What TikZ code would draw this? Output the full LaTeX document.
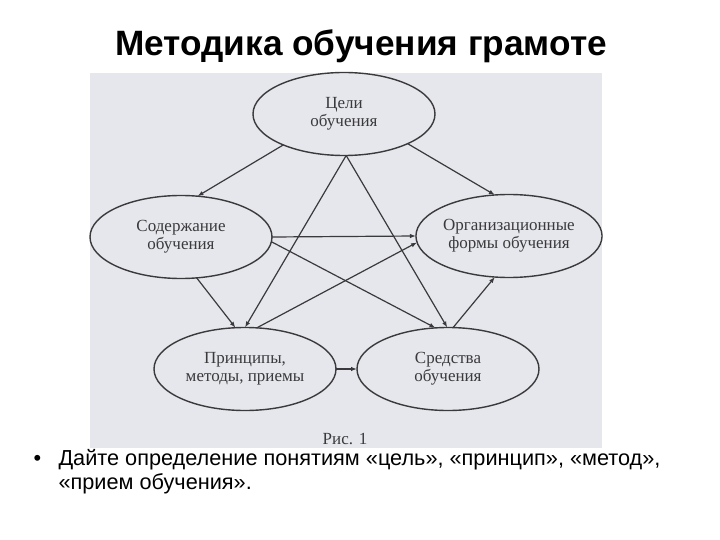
\documentclass[tikz,border=0pt]{standalone}
\usepackage{fontspec}
\setmainfont{Liberation Serif}
\newfontfamily\slidefont{Liberation Sans}
\usepackage{tikz}
\usetikzlibrary{shapes.geometric, arrows.meta, positioning}
\definecolor{scangray}{RGB}{230,231,236}
\definecolor{inkgray}{RGB}{58,58,60}

\begin{document}
\begin{tikzpicture}[x=1pt, y=-1pt,
	oval/.style={draw=inkgray, line width=1.4pt, ellipse, inner sep=0pt, outer sep=0pt, minimum width=182pt, minimum height=83pt, align=center, text=inkgray, font=\fontsize{17}{18}\selectfont},
	link/.style={draw=inkgray, line width=1.2pt, -{Latex[length=6pt, width=4.5pt]}}]
	\useasboundingbox (0,0) rectangle (720,540);
	\fill[scangray] (90,73) rectangle (602,448);
	
	\node[font=\slidefont\bfseries\fontsize{35.2}{40}\selectfont, anchor=base] (title) at (361,56) {Методика обучения грамоте};
	
	\node[oval] (goals) at (344,114) {Цели\\обучения};
	\node[oval] (content) at (181,237) {Содержание\\обучения};
	\node[oval] (forms) at (509,236) {Организационные\\формы обучения};
	\node[oval] (methods) at (245,369) {Принципы,\\методы, приемы};
	\node[oval] (means) at (448,369) {Средства\\обучения};
	\node[text=inkgray, font=\fontsize{17}{18}\selectfont, anchor=base] (caption) at (345,444) {Рис. 1};
	
	\draw[link] (goals.207) -- (content.68);
	\draw[link] (goals.335) -- (forms.109);
	\draw[link] (goals.273) -- (methods.90);
	\draw[link] (goals.273) -- (means.91);
	\draw[link] (content.east) -- (forms.west);
	\draw[link] (content.357) -- (means.107);
	\draw[link] (content.291) -- (methods.103);
	\draw[link] (methods.74) -- (forms.184);
	\draw[link] (means.83) -- (forms.251);
	\draw[link] (methods.east) -- (means.west);
	
	\node[font=\slidefont\fontsize{21.7}{24}\selectfont, anchor=base west] (bullet) at (30,465) {•};
	\node[font=\slidefont\fontsize{21.7}{24}\selectfont, anchor=base west] (task) at (55,465) {Дайте определение понятиям «цель», «принцип», «метод»,};
	\node[font=\slidefont\fontsize{21.7}{24}\selectfont, anchor=base west] (task2) at (55,489) {«прием обучения».};
\end{tikzpicture}
\end{document}
